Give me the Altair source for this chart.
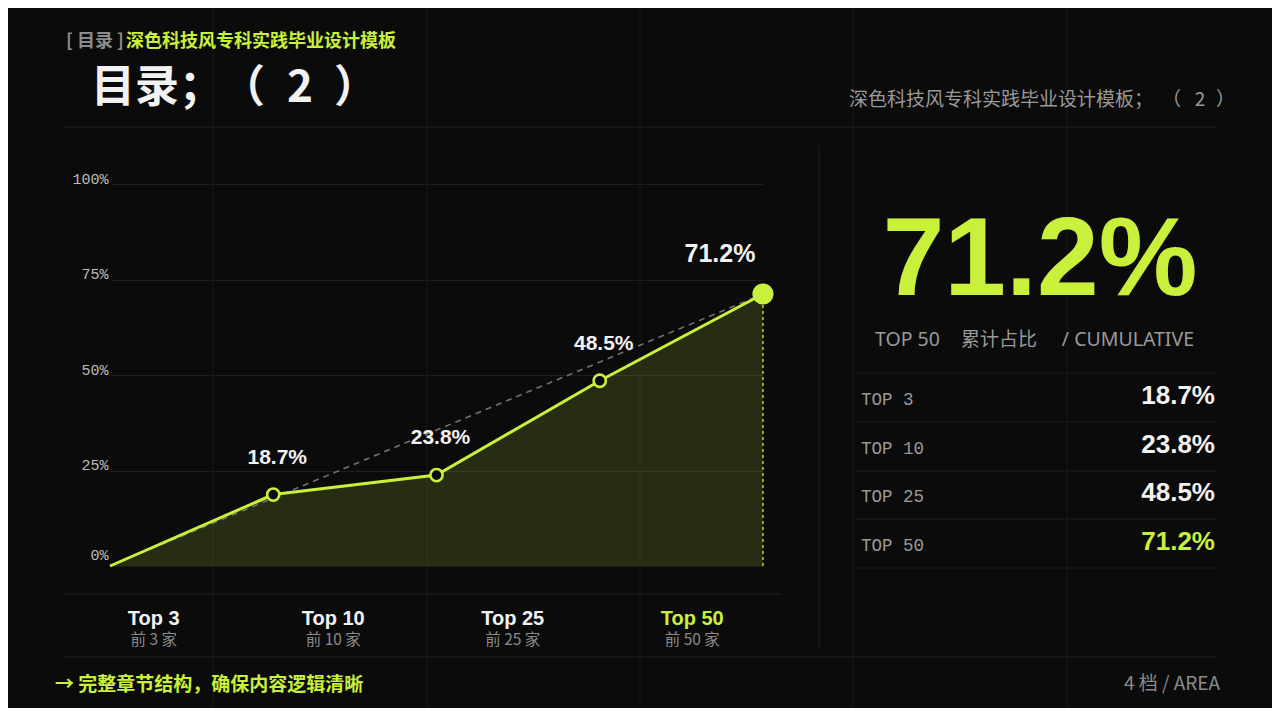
import altair as alt
import pandas as pd

# ---------------- data ----------------
categories = ["Top 3", "Top 10", "Top 25", "Top 50"]
sub_labels = ["前 3 家", "前 10 家", "前 25 家", "前 50 家"]
table_labels = ["TOP 3", "TOP 10", "TOP 25", "TOP 50"]
values = [18.7, 23.8, 48.5, 71.2]
start_value = 0.0
y_ticks = [0, 25, 50, 75, 100]

header_tag = "[ 目录 ]"
header_text = "深色科技风专科实践毕业设计模板"
title_parts = ["目录；", "（", "2", "）"]
top_right_parts = ["深色科技风专科实践毕业设计模板；", "（", "2", "）"]
kpi_caption_parts = ["TOP 50", "累计占比", "/ CUMULATIVE"]
footer_left = "→ 完整章节结构，确保内容逻辑清晰"
footer_right = "4 档 / AREA"

# ---------------- style ----------------
BG = "#0b0b0b"
LIME = "#c9f03a"
WHITE = "#f2f2f2"
GRAY = "#9a9a9a"
LINE = "#232323"
PAGE_GRID = "#191919"
CJK = "Noto Sans CJK SC"
SANS = "Liberation Sans"
MONO = "Liberation Mono"
LATIN = "Noto Sans, Noto Sans CJK SC"

# plot area placement (page pixels)
OX, OY = 110, 184
W, H = 653, 382


def px(x):
    return x - OX


def py(y):
    return y - OY


main_df = pd.DataFrame({
    "idx": list(range(len(values) + 1)),
    "val": [start_value] + values,
})
cat_df = pd.DataFrame({
    "cat": categories,
    "sub": sub_labels,
    "k": list(range(len(categories))),
})
tab_df = pd.DataFrame({
    "row": table_labels,
    "val": values,
    "k": list(range(len(values))),
})
dummy = pd.DataFrame({"d": [0]})

xq = alt.X("idx:Q", scale=alt.Scale(domain=[0, len(values)], nice=False), axis=None)
yq = alt.Y("val:Q", scale=alt.Scale(domain=[0, 100], nice=False), axis=None)

base = alt.Chart(main_df)

area = base.mark_area(color=LIME, opacity=0.15).encode(
    x=xq,
    y=alt.Y(
        "val:Q",
        scale=alt.Scale(domain=[0, 100], nice=False),
        axis=alt.Axis(
            values=y_ticks,
            labelExpr="datum.value + '%'",
            title=None,
            domain=False,
            ticks=False,
            tickSize=0,
            labelPadding=2,
            labelFont=MONO,
            labelFontSize=15,
            labelColor="#bdbdbd",
            labelBaseline="alphabetic",
            labelOffset={"condition": {"test": "datum.value === 0", "value": -7}, "value": -1},
            grid=True,
            gridColor="#1e1e1e",
            gridWidth=1,
        ),
    ),
)

trend = base.transform_filter(
    f"datum.idx == 0 || datum.idx == {len(values)}"
).mark_line(color="#727272", strokeWidth=1.6, strokeDash=[6, 5]).encode(x=xq, y=yq)

line = base.mark_line(color=LIME, strokeWidth=3).encode(x=xq, y=yq)

drop = base.transform_filter(f"datum.idx == {len(values)}").transform_calculate(
    zero="0"
).mark_rule(color=LIME, strokeWidth=1.3, strokeDash=[3, 3]).encode(
    x=xq,
    y=alt.Y("zero:Q", scale=alt.Scale(domain=[0, 100], nice=False), axis=None),
    y2="val:Q",
)

open_pts = base.transform_filter(
    f"datum.idx >= 1 && datum.idx <= {len(values) - 1}"
).mark_point(
    shape="circle", filled=True, fill=BG, stroke=LIME, strokeWidth=2.6, size=150, opacity=1
).encode(x=xq, y=yq)

end_pt = base.transform_filter(f"datum.idx == {len(values)}").mark_circle(
    color=LIME, size=450, opacity=1
).encode(x=xq, y=yq)

val_labels = base.transform_filter(
    f"datum.idx >= 1 && datum.idx <= {len(values) - 1}"
).transform_calculate(lab="format(datum.val, '.1f') + '%'").mark_text(
    font=SANS, fontSize=21, fontWeight="bold", color=WHITE, dx=4, dy=-37, baseline="middle"
).encode(x=xq, y=yq, text="lab:N")

end_label = base.transform_filter(f"datum.idx == {len(values)}").transform_calculate(
    lab="format(datum.val, '.1f') + '%'"
).mark_text(
    font=SANS, fontSize=25, fontWeight="bold", color=WHITE, dx=-43, dy=-40, baseline="middle"
).encode(x=xq, y=yq, text="lab:N")

# category labels under the chart
xb = alt.X(
    "cat:N",
    sort=categories,
    scale=alt.Scale(type="band", range=[px(64), px(782)], paddingInner=0, paddingOuter=0),
    axis=None,
)
cat_top = alt.Chart(cat_df).mark_text(
    font=SANS, fontSize=20, fontWeight="bold", baseline="middle"
).encode(
    x=xb,
    y=alt.value(py(619)),
    text="cat:N",
    color=alt.condition(f"datum.k == {len(categories) - 1}", alt.value(LIME), alt.value(WHITE)),
)
cat_sub = alt.Chart(cat_df).mark_text(
    font=CJK, fontSize=15.5, color="#8a8a8a", baseline="middle"
).encode(x=xb, y=alt.value(py(640)), text="sub:N")

# right panel table
yr = alt.Y(
    "row:N",
    sort=table_labels,
    scale=alt.Scale(type="point", range=[py(400), py(546)], padding=0),
    axis=None,
)
tab_lab = alt.Chart(tab_df).mark_text(
    font=MONO, fontSize=17.5, color=GRAY, align="left", baseline="middle"
).encode(x=alt.value(px(861)), y=yr, text="row:N")
tab_val = alt.Chart(tab_df).transform_calculate(
    lab="format(datum.val, '.1f') + '%'"
).mark_text(
    font=SANS, fontSize=26, fontWeight="bold", align="right", baseline="middle", dy=-4
).encode(
    x=alt.value(px(1215)),
    y=yr,
    text="lab:N",
    color=alt.condition(f"datum.k == {len(values) - 1}", alt.value(LIME), alt.value(WHITE)),
)

big_kpi = alt.Chart(tab_df).transform_filter(f"datum.k == {len(values) - 1}").transform_calculate(
    lab="format(datum.val, '.1f') + '%'"
).mark_text(
    font=SANS, fontSize=111, fontWeight="bold", color=LIME, align="center", baseline="alphabetic"
).encode(x=alt.value(px(1040)), y=alt.value(py(295)), text="lab:N")


def txt(s, x, y, size, color, weight="normal", align="left", font=CJK, baseline="middle"):
    return alt.Chart(dummy).mark_text(
        text=s, font=font, fontSize=size, color=color, fontWeight=weight,
        align=align, baseline=baseline,
    ).encode(x=alt.value(px(x)), y=alt.value(py(y)))


def hline(y, x1, x2, color=LINE):
    return alt.Chart(dummy).mark_rule(color=color, strokeWidth=1).encode(
        x=alt.value(px(x1)), x2=alt.value(px(x2)), y=alt.value(py(y))
    )


def vline(x, y1, y2, color=LINE):
    return alt.Chart(dummy).mark_rule(color=color, strokeWidth=1).encode(
        x=alt.value(px(x)), y=alt.value(py(y1)), y2=alt.value(py(y2))
    )


deco = []
for gx in [213, 427, 640, 853, 1067]:
    deco.append(vline(gx, 8, 708, PAGE_GRID))
deco += [
    hline(127, 64, 1216),
    hline(594, 64, 782),
    hline(657, 64, 1216),
    vline(819, 145, 650, "#1f1f1f"),
]
for ty in [373, 422, 471, 519, 568]:
    deco.append(hline(ty, 856, 1216, "#1f1f1f"))

texts = [
    txt(header_tag, 66, 42, 18, "#8c8c8c", "bold"),
    txt(header_text, 126, 42, 18, LIME, "bold"),
    # title, spaced like the reference
    txt(title_parts[0], 91, 89, 44, WHITE, "bold"),
    txt(title_parts[1], 265, 89, 44, WHITE, "bold", align="right"),
    txt(title_parts[2], 300, 89, 44, WHITE, "bold", align="center"),
    txt(title_parts[3], 334, 89, 44, WHITE, "bold"),
    # top-right subtitle
    txt(top_right_parts[0], 849, 100, 19, GRAY),
    txt(top_right_parts[1], 1181, 100, 19, GRAY, align="right"),
    txt(top_right_parts[2], 1200, 100, 19, GRAY, align="center"),
    txt(top_right_parts[3], 1216, 100, 19, GRAY),
    # KPI caption
    txt(kpi_caption_parts[0], 875, 340, 19.5, GRAY, font=LATIN),
    txt(kpi_caption_parts[1], 961, 340, 19, GRAY, font=LATIN),
    txt(kpi_caption_parts[2], 1194, 340, 19.5, GRAY, align="right", font=LATIN),
    # footer
    txt(footer_left, 55, 685, 19, LIME, "bold"),
    txt(footer_right, 1220, 684, 19, "#8a8a8a", align="right"),
]

chart = alt.layer(
    *deco,
    area, trend, line, drop, open_pts, end_pt, val_labels, end_label,
    cat_top, cat_sub, tab_lab, tab_val, big_kpi,
    *texts,
).resolve_scale(
    x="independent", y="independent", color="independent"
).properties(
    width=W,
    height=H,
    padding={"left": OX - 8, "top": OY - 8, "right": 1264 - (OX - 8) - W, "bottom": 700 - (OY - 8) - H},
    autosize=alt.AutoSizeParams(type="none"),
    background=BG,
).configure_view(stroke=None)

chart.save("out.html", embed_options={"renderer": "svg", "actions": False})
